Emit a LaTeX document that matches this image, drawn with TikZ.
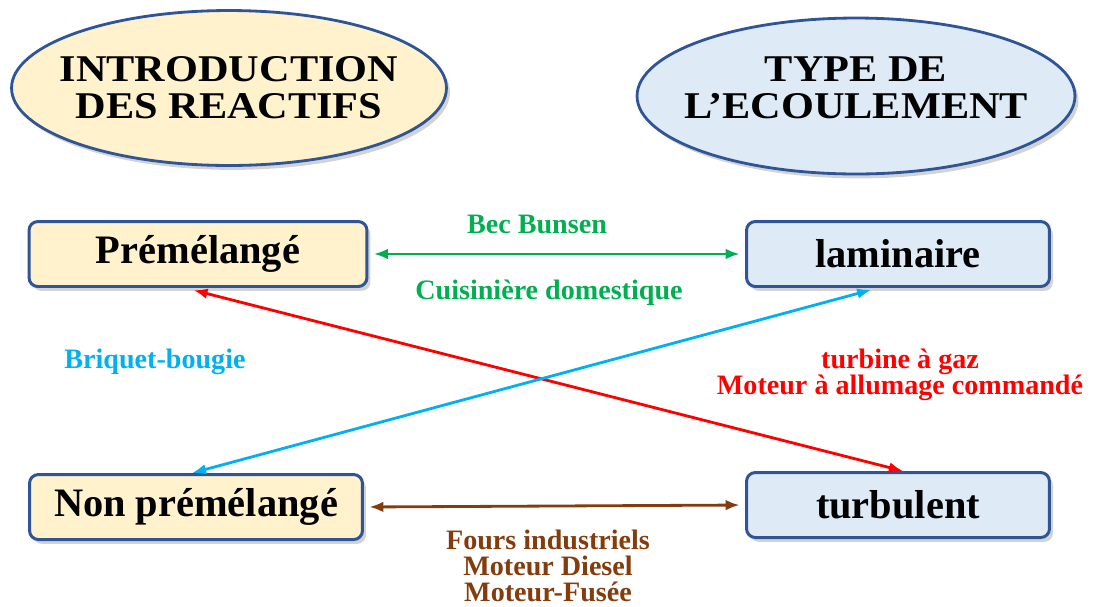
\documentclass[tikz,border=0pt]{standalone}
\usepackage{fontspec}
\setmainfont{Liberation Serif}
\newfontfamily\widefont[FakeStretch=1.12]{Liberation Serif}
\usepackage{tikz}
\usetikzlibrary{shapes.geometric,arrows.meta,shadows}
\definecolor{frameblue}{HTML}{2F5597}
\definecolor{sandfill}{HTML}{FFF2CC}
\definecolor{skyfill}{HTML}{DEEBF7}
\definecolor{bunsengreen}{HTML}{00B050}
\definecolor{candlecyan}{HTML}{00B0F0}
\definecolor{engred}{HTML}{FF0000}
\definecolor{furnbrown}{HTML}{843C0C}
\tikzset{
    >={Latex[length=8pt,width=6pt]},
    softshadow/.style={drop shadow={opacity=0.35,shadow xshift=2pt,shadow yshift=-2.5pt}},
    titleoval/.style={
        ellipse,
        draw=frameblue,
        line width=1.6pt,
        softshadow
    },
    titletext/.style={
        align=center,
        font={\widefont\fontsize{21.5}{21}\selectfont\bfseries}
    },
    kindbox/.style={
        rectangle,
        rounded corners=5pt,
        draw=frameblue,
        line width=1.7pt,
        minimum height=1.3cm,
        text centered,
        font={\fontsize{23}{26}\selectfont\bfseries},
        softshadow
    },
    link/.style={<->, line width=1.6pt, shorten <=3pt, shorten >=3pt},
    tag/.style={align=center, font={\fontsize{16}{14.8}\selectfont\bfseries}},
}
\begin{document}
\begin{tikzpicture}[x=0.02cm,y=-0.02cm]
\useasboundingbox (0,0) rectangle (1098,606);

% titres
\node[titleoval,fill=sandfill,minimum width=8.7cm,minimum height=3.1cm,
      label={[titletext]center:INTRODUCTION\\DES REACTIFS}] (intro) at (229,88) {};
\node[titleoval,fill=skyfill,minimum width=8.76cm,minimum height=3.12cm,
      label={[titletext,yshift=0.16cm]center:TYPE DE\\L’ECOULEMENT}] (flow) at (856,96) {};

% cases
\node[kindbox,fill=sandfill,minimum width=6.76cm] (pre) at (198,254) {Prémélangé};
\node[kindbox,fill=skyfill,minimum width=6.06cm] (lam) at (898,254) {laminaire};
\node[kindbox,fill=sandfill,minimum width=6.66cm] (np) at (196,507) {Non prémélangé};
\node[kindbox,fill=skyfill,minimum width=6.06cm] (turb) at (898,505) {turbulent};

% liaisons
\draw[link,bunsengreen] (pre.east) -- (lam.west);
\draw[link,furnbrown] (np.east) -- (turb.west);
\draw[link,engred,shorten <=5pt,shorten >=0pt] ([xshift=-0.26cm]pre.south) -- ([xshift=0.1cm]turb.north);
\draw[link,candlecyan,shorten <=4pt,shorten >=0pt] ([xshift=-0.4cm]lam.south) -- ([xshift=-0.08cm]np.north);

% exemples
\node[tag,text=bunsengreen] (bec) at (537,224) {Bec Bunsen};
\node[tag,text=bunsengreen] (cuis) at (549,293) {Cuisinière domestique};
\node[tag,text=candlecyan] (briq) at (155,362) {Briquet-bougie};
\node[tag,text=engred] (moteur) at (900,375) {turbine à gaz\\Moteur à allumage commandé};
\node[tag,text=furnbrown] (fours) at (548,566) {Fours industriels\\Moteur Diesel\\Moteur-Fusée};
\end{tikzpicture}
\end{document}
